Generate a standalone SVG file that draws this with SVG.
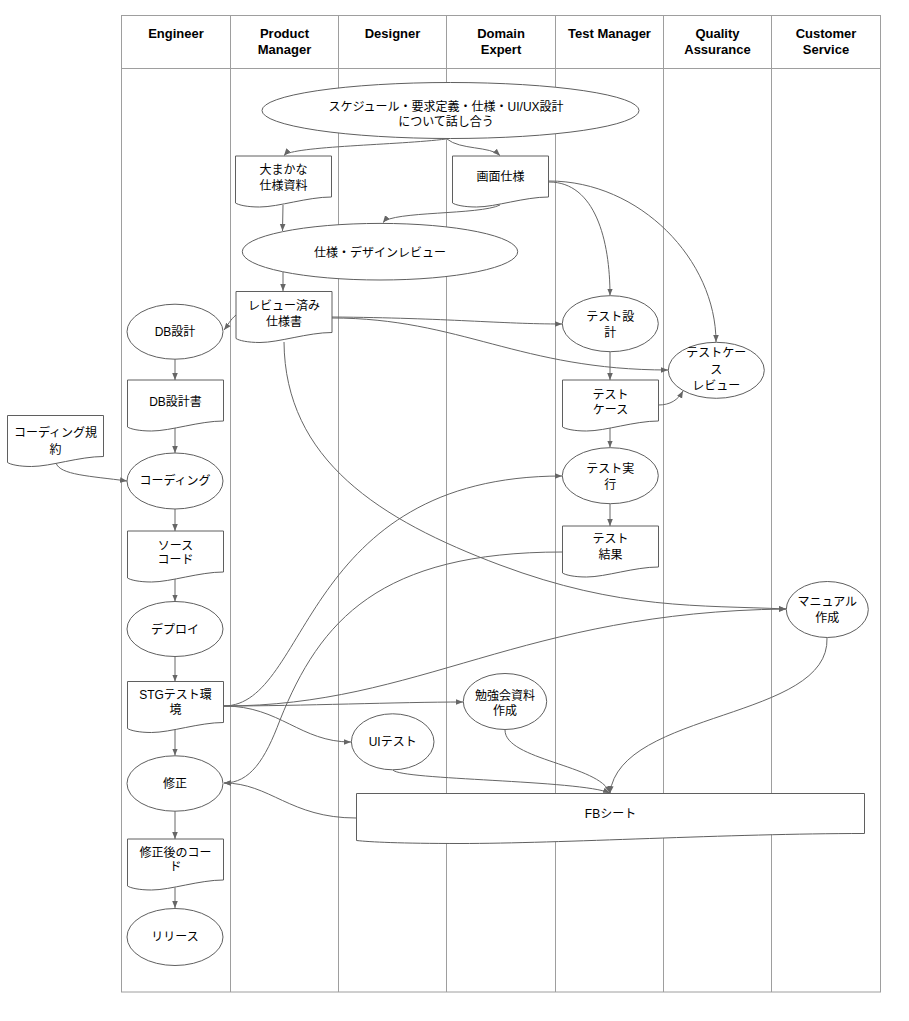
<svg xmlns="http://www.w3.org/2000/svg" xmlns:xlink="http://www.w3.org/1999/xlink" width="909" height="1021" viewBox="0 0 909 1021">
<style>
.lane{fill:none;stroke:#9e9e9e;stroke-width:1}
.hd{font-family:"Liberation Sans","Noto Sans CJK JP",sans-serif;font-size:13px;font-weight:bold;fill:#000;text-anchor:middle}
.node{fill:#fff;stroke:#5f5f5f;stroke-width:1}
.t{font-family:"Liberation Sans","Noto Sans CJK JP",sans-serif;font-size:12px;fill:#000;text-anchor:middle}
.c{fill:none;stroke:#666;stroke-width:1;marker-end:url(#arr)}
</style>
<defs>
<marker id="arr" viewBox="0 0 10 10" refX="10" refY="5" markerWidth="7" markerHeight="7" markerUnits="userSpaceOnUse" orient="auto">
<path d="M0,1 L10,5 L0,9 z" fill="#666"/>
</marker>
<path id="doc" d="M0,0 H96 V41 C72,41 43,51 24,51 C11.5,51 3,49 0,47 Z"/>
</defs>
<rect width="909" height="1021" fill="#fff"/>
<g id="lanes">
<rect class="lane" x="121.5" y="15.5" width="759" height="976.5"/>
<line class="lane" x1="121.5" y1="68.5" x2="880.5" y2="68.5"/>
<line class="lane" x1="230.5" y1="15.5" x2="230.5" y2="992"/>
<line class="lane" x1="338.5" y1="15.5" x2="338.5" y2="992"/>
<line class="lane" x1="446.5" y1="15.5" x2="446.5" y2="992"/>
<line class="lane" x1="555.5" y1="15.5" x2="555.5" y2="992"/>
<line class="lane" x1="663.5" y1="15.5" x2="663.5" y2="992"/>
<line class="lane" x1="771.5" y1="15.5" x2="771.5" y2="992"/>
<text class="hd" x="176" y="38">Engineer</text>
<text class="hd" x="284.5" y="38">Product</text>
<text class="hd" x="284.5" y="54">Manager</text>
<text class="hd" x="392.5" y="38">Designer</text>
<text class="hd" x="501" y="38">Domain</text>
<text class="hd" x="501" y="54">Expert</text>
<text class="hd" x="609.5" y="38">Test Manager</text>
<text class="hd" x="717.5" y="38">Quality</text>
<text class="hd" x="717.5" y="54">Assurance</text>
<text class="hd" x="826" y="38">Customer</text>
<text class="hd" x="826" y="54">Service</text>
</g>
<g id="connectors">
<path class="c" d="M446,139 C400,145 292,146 284,155.5"/>
<path class="c" d="M447,139 C460,150 490,146 500,155.5"/>
<path class="c" d="M283,205 L282.5,231"/>
<path class="c" d="M500,205 C480,215 392,211 383,222.5"/>
<path class="c" d="M283,272 L283,291"/>
<path class="c" d="M236,315 C230,320 228,325 224,330"/>
<path class="c" d="M332,317 C450,318 500,324 562,324"/>
<path class="c" d="M332,318 C460,318 520,370 668,370"/>
<path class="c" d="M549,182 C595,182 610,240 610,295.5"/>
<path class="c" d="M549,181 C640,181 716,260 716,342"/>
<path class="c" d="M175,359 L175,380"/>
<path class="c" d="M175,427 L175,453"/>
<path class="c" d="M56,463 C60,475 90,476 127,481"/>
<path class="c" d="M175,509 L175,531"/>
<path class="c" d="M175,577 L175,601.5"/>
<path class="c" d="M175,657 L175,681.5"/>
<path class="c" d="M175,727 L175,755.5"/>
<path class="c" d="M175,811 L175,839"/>
<path class="c" d="M175,887.5 L175,908"/>
<path class="c" d="M610,352 L610,380"/>
<path class="c" d="M658.5,405 C670,405 678,400 683,391"/>
<path class="c" d="M610,428 L610,447.5"/>
<path class="c" d="M610,504 L610,526"/>
<path class="c" d="M224,706 C310,705 300,476 562,476"/>
<path class="c" d="M562,552 C380,552 320,620 280,720 C265,760 250,783 224,783"/>
<path class="c" d="M284,342 C285,460 380,520 500,565 S700,605 786,609"/>
<path class="c" d="M224,706 C420,706 520,612 786,609"/>
<path class="c" d="M224,706 C300,706 400,702 463,702"/>
<path class="c" d="M224,706 C280,706 300,742 351,742"/>
<path class="c" d="M393,770 C400,780 580,780 610,793"/>
<path class="c" d="M505,730 C505,760 600,765 610,793"/>
<path class="c" d="M827,638 C830,720 620,710 610,793"/>
<path class="c" d="M356,818 C290,818 270,783 224,783"/>
</g>
<g id="n-meeting"><ellipse class="node" cx="450.5" cy="110.5" rx="188.5" ry="28"/><text class="t" x="446" y="110.5">スケジュール・要求定義・仕様・UI/UX設計</text><text class="t" x="446" y="125.5">について話し合う</text></g>
<g id="n-rough"><use href="#doc" class="node" x="235.5" y="156"/><text class="t" x="283.5" y="173.5">大まかな</text><text class="t" x="283.5" y="189.5">仕様資料</text></g>
<g id="n-screen"><use href="#doc" class="node" x="452.5" y="156"/><text class="t" x="500.5" y="181">画面仕様</text></g>
<g id="n-review"><ellipse class="node" cx="380" cy="251.7" rx="137.7" ry="28.3"/><text class="t" x="380" y="256.5">仕様・デザインレビュー</text></g>
<g id="n-reviewed"><use href="#doc" class="node" x="236" y="291.5"/><text class="t" x="284" y="309.5">レビュー済み</text><text class="t" x="284" y="325.5">仕様書</text></g>
<g id="n-db"><ellipse class="node" cx="175" cy="331.7" rx="48" ry="27.5"/><text class="t" x="175" y="336">DB設計</text></g>
<g id="n-dbdoc"><use href="#doc" class="node" x="127.5" y="380"/><text class="t" x="175.5" y="406">DB設計書</text></g>
<g id="n-rules"><use href="#doc" class="node" x="7.5" y="415.5"/><text class="t" x="55.5" y="437">コーディング規</text><text class="t" x="55.5" y="453.5">約</text></g>
<g id="n-coding"><ellipse class="node" cx="175" cy="481" rx="48" ry="28"/><text class="t" x="175" y="485">コーディング</text></g>
<g id="n-source"><use href="#doc" class="node" x="127.5" y="531"/><text class="t" x="175.5" y="549.5">ソース</text><text class="t" x="175.5" y="564">コード</text></g>
<g id="n-deploy"><ellipse class="node" cx="175" cy="629" rx="48" ry="27.5"/><text class="t" x="175" y="633.5">デプロイ</text></g>
<g id="n-stg"><use href="#doc" class="node" x="127.5" y="681.5"/><text class="t" x="175.5" y="698.5">STGテスト環</text><text class="t" x="175.5" y="713.5">境</text></g>
<g id="n-fix"><ellipse class="node" cx="175" cy="783.5" rx="48" ry="27.7"/><text class="t" x="175" y="788">修正</text></g>
<g id="n-fixed"><use href="#doc" class="node" x="127.5" y="839"/><text class="t" x="175.5" y="856.5">修正後のコー</text><text class="t" x="175.5" y="871">ド</text></g>
<g id="n-release"><ellipse class="node" cx="175" cy="937" rx="48" ry="28.5"/><text class="t" x="175" y="941">リリース</text></g>
<g id="n-testdesign"><ellipse class="node" cx="610.3" cy="323.7" rx="48" ry="28"/><text class="t" x="610.3" y="321">テスト設</text><text class="t" x="610.3" y="337">計</text></g>
<g id="n-tcreview"><ellipse class="node" cx="716.3" cy="370.3" rx="48" ry="28"/><text class="t" x="716.3" y="357">テストケー</text><text class="t" x="716.3" y="373.5">ス</text><text class="t" x="716.3" y="389.5">レビュー</text></g>
<g id="n-testcase"><use href="#doc" class="node" x="562.5" y="380"/><text class="t" x="610.5" y="398.5">テスト</text><text class="t" x="610.5" y="414">ケース</text></g>
<g id="n-testrun"><ellipse class="node" cx="610.3" cy="475.7" rx="48" ry="28"/><text class="t" x="610.3" y="472.5">テスト実</text><text class="t" x="610.3" y="488.5">行</text></g>
<g id="n-testresult"><use href="#doc" class="node" x="562.5" y="526"/><text class="t" x="610.5" y="542.5">テスト</text><text class="t" x="610.5" y="558.5">結果</text></g>
<g id="n-manual"><ellipse class="node" cx="827.3" cy="609.5" rx="41" ry="28"/><text class="t" x="827.3" y="606">マニュアル</text><text class="t" x="827.3" y="622">作成</text></g>
<g id="n-study"><ellipse class="node" cx="505" cy="701.5" rx="41.7" ry="28"/><text class="t" x="505" y="699.5">勉強会資料</text><text class="t" x="505" y="714.5">作成</text></g>
<g id="n-uitest"><ellipse class="node" cx="392.7" cy="741.8" rx="41.3" ry="28"/><text class="t" x="392.7" y="746">UIテスト</text></g>
<g id="n-fb"><path class="node" d="M356.5,793.5 H864.5 V833.5 C730,833.5 560,843.5 460,843.5 C400,843.5 370,842 356.5,840.5 Z"/><text class="t" x="610.5" y="817.5">FBシート</text></g>
</svg>
